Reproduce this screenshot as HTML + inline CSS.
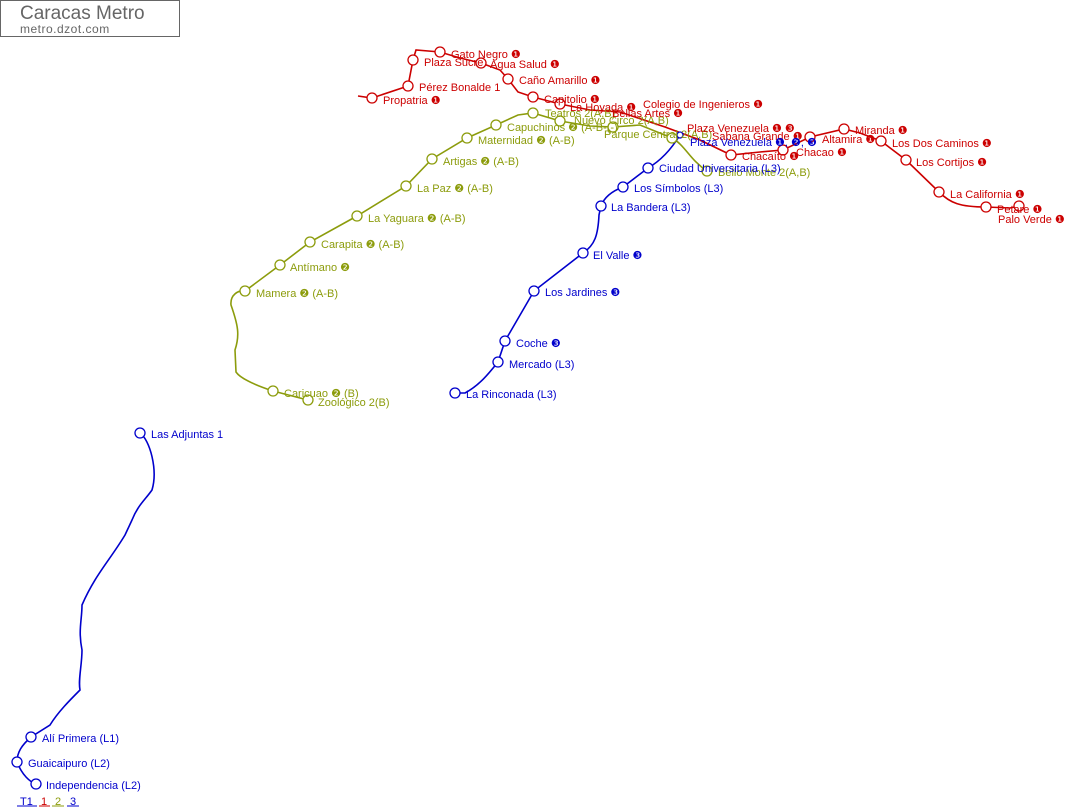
<!DOCTYPE html>
<html><head><meta charset="utf-8"><style>
html,body{margin:0;padding:0;background:#fff;width:1071px;height:810px;overflow:hidden}
svg text{font-family:"Liberation Sans",sans-serif;font-size:11px}
.r{fill:#cc0000}.g{fill:#8c9c0c}.b{fill:#0000cc}
circle{fill:#fff;stroke-width:1.3}
</style></head><body>
<svg width="1071" height="810" viewBox="0 0 1071 810">
<rect x="0.5" y="0.5" width="179" height="36" fill="#fff" stroke="#666"/>
<text x="20" y="19" style="font-size:19px" fill="#666">Caracas Metro</text>
<text x="20" y="33" style="font-size:12px;letter-spacing:0.5px" fill="#666">metro.dzot.com</text>

<!-- olive line 2 -->
<g fill="none" stroke="#8c9c0c" stroke-width="1.6">
<path d="M308,400 L300,398 L273,391 C255,385 240,378 236,372 L235,350 C240,335 238,325 231,305 C230,295 238,290 245,291 L280,265 L310,242 L357,216 L406,186 L432,159 L467,138 L496,125 L518,115 L533,113 L560,121 L590,126 L613,127 L640,125 L672,138 C685,145 690,160 707,171"/>
</g>
<!-- red line 1 -->
<g fill="none" stroke="#cc0000" stroke-width="1.6">
<path d="M358,96 L372,98 L408,86 L413,60 L416,50 L440,52 L460,58 L481,63 L500,70 L508,79 L518,92 L533,97 L560,104 L590,110 L620,112 L665,127 L700,140 L731,155 L760,152 L783,150 L810,137 L844,129 L860,133 L881,141 L906,160 L939,192 C950,203 960,207 986,207 L1010,208 L1019,206"/>
</g>
<!-- blue line 3 -->
<g fill="none" stroke="#0000cc" stroke-width="1.6">
<path d="M455,393 L465,393 C480,385 490,372 498,362 L505,341 L534,291 L583,253 C595,245 598,235 599,215 L601,206 C605,195 615,190 623,187 L648,168 C662,160 672,148 680,135"/>
<path d="M140,433 C150,440 158,470 152,490 C145,500 138,505 132,520 L125,535 C110,560 95,575 82,605 C82,620 78,630 82,650 C82,665 78,680 80,690 C70,700 58,712 50,725 L31,737 C22,745 17,752 17,762 C22,775 30,782 36,784"/>
</g>

<!-- stations olive -->
<g stroke="#8c9c0c">
<circle cx="308" cy="400" r="5"/><circle cx="273" cy="391" r="5"/><circle cx="245" cy="291" r="5"/><circle cx="280" cy="265" r="5"/><circle cx="310" cy="242" r="5"/><circle cx="357" cy="216" r="5"/><circle cx="406" cy="186" r="5"/><circle cx="432" cy="159" r="5"/><circle cx="467" cy="138" r="5"/><circle cx="496" cy="125" r="5"/><circle cx="533" cy="113" r="5"/><circle cx="560" cy="121" r="5"/><circle cx="613" cy="127" r="5"/><circle cx="672" cy="138" r="5"/><circle cx="707" cy="171" r="5"/>
</g>
<g stroke="#cc0000">
<circle cx="372" cy="98" r="5"/><circle cx="408" cy="86" r="5"/><circle cx="413" cy="60" r="5"/><circle cx="440" cy="52" r="5"/><circle cx="481" cy="63" r="5"/><circle cx="508" cy="79" r="5"/><circle cx="533" cy="97" r="5"/><circle cx="560" cy="104" r="5"/><circle cx="731" cy="155" r="5"/><circle cx="783" cy="150" r="5"/><circle cx="810" cy="137" r="5"/><circle cx="844" cy="129" r="5"/><circle cx="881" cy="141" r="5"/><circle cx="906" cy="160" r="5"/><circle cx="939" cy="192" r="5"/><circle cx="986" cy="207" r="5"/><circle cx="1019" cy="206" r="5"/>
</g>
<g stroke="#0000cc">
<circle cx="455" cy="393" r="5"/><circle cx="498" cy="362" r="5"/><circle cx="505" cy="341" r="5"/><circle cx="534" cy="291" r="5"/><circle cx="583" cy="253" r="5"/><circle cx="601" cy="206" r="5"/><circle cx="623" cy="187" r="5"/><circle cx="648" cy="168" r="5"/><circle cx="680" cy="135" r="3"/>
<circle cx="140" cy="433" r="5"/><circle cx="31" cy="737" r="5"/><circle cx="17" cy="762" r="5"/><circle cx="36" cy="784" r="5"/>
</g>

<!-- labels olive -->
<g class="g">
<text x="318" y="406">Zoológico 2(B)</text>
<text x="284" y="397">Caricuao ❷ (B)</text>
<text x="256" y="297">Mamera ❷ (A-B)</text>
<text x="290" y="271">Antímano ❷</text>
<text x="321" y="248">Carapita ❷ (A-B)</text>
<text x="368" y="222">La Yaguara ❷ (A-B)</text>
<text x="417" y="192">La Paz ❷ (A-B)</text>
<text x="443" y="165">Artigas ❷ (A-B)</text>
<text x="478" y="144">Maternidad ❷ (A-B)</text>
<text x="507" y="131">Capuchinos ❷ (A-B-(-)</text>
<text x="545" y="117">Teatros 2(A,B)</text>
<text x="574" y="124">Nuevo Circo 2(A,B)</text>
<text x="604" y="138">Parque Central 2(A,B)</text>
<text x="718" y="176">Bello Monte 2(A,B)</text>
</g>
<!-- labels red -->
<g class="r">
<text x="383" y="104">Propatria ❶</text>
<text x="419" y="91">Pérez Bonalde 1</text>
<text x="424" y="66">Plaza Sucre</text>
<text x="451" y="58">Gato Negro ❶</text>
<text x="490" y="68">Agua Salud ❶</text>
<text x="519" y="84">Caño Amarillo ❶</text>
<text x="544" y="103">Capitolio ❶</text>
<text x="570" y="111">La Hoyada ❶</text>
<text x="612" y="117">Bellas Artes ❶</text>
<text x="643" y="108">Colegio de Ingenieros ❶</text>
<text x="687" y="132">Plaza Venezuela ❶ ❸</text>
<text x="712" y="140">Sabana Grande ❶</text>
<text x="742" y="160">Chacaíto ❶</text>
<text x="796" y="156">Chacao ❶</text>
<text x="822" y="143">Altamira ❶</text>
<text x="855" y="134">Miranda ❶</text>
<text x="892" y="147">Los Dos Caminos ❶</text>
<text x="916" y="166">Los Cortijos ❶</text>
<text x="950" y="198">La California ❶</text>
<text x="997" y="213">Petare ❶</text>
<text x="998" y="223">Palo Verde ❶</text>
</g>
<!-- labels blue -->
<g class="b">
<text x="690" y="146">Plaza Venezuela ❶, ❷, ❸</text>
<text x="659" y="172">Ciudad Universitaria (L3)</text>
<text x="634" y="192">Los Símbolos (L3)</text>
<text x="611" y="211">La Bandera (L3)</text>
<text x="593" y="259">El Valle ❸</text>
<text x="545" y="296">Los Jardines ❸</text>
<text x="516" y="347">Coche ❸</text>
<text x="509" y="368">Mercado (L3)</text>
<text x="466" y="398">La Rinconada (L3)</text>
<text x="151" y="438">Las Adjuntas 1</text>
<text x="42" y="742">Alí Primera (L1)</text>
<text x="28" y="767">Guaicaipuro (L2)</text>
<text x="46" y="789">Independencia (L2)</text>
</g>
<!-- legend -->
<text x="20" y="805" class="b">T1</text><line x1="17" y1="806" x2="37" y2="806" stroke="#0000cc"/>
<text x="41" y="805" class="r">1</text><line x1="39" y1="806" x2="50" y2="806" stroke="#cc0000"/>
<text x="55" y="805" class="g">2</text><line x1="52" y1="806" x2="64" y2="806" stroke="#8c9c0c"/>
<text x="70" y="805" class="b">3</text><line x1="67" y1="806" x2="79" y2="806" stroke="#0000cc"/>
</svg>
</body></html>
